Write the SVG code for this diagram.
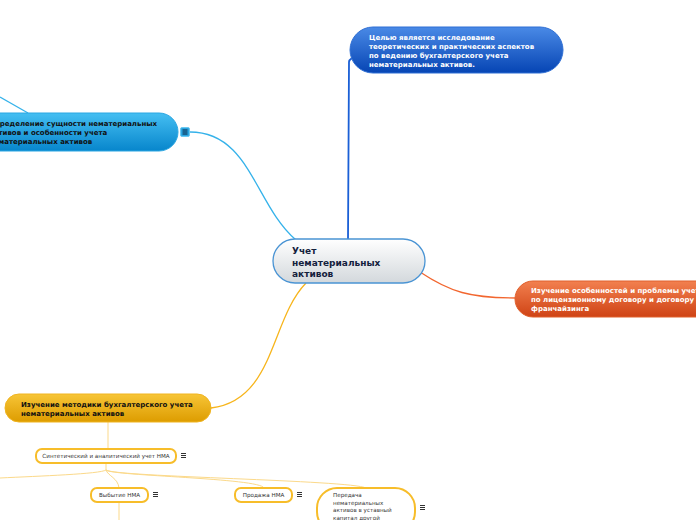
<svg xmlns="http://www.w3.org/2000/svg" width="696" height="520" viewBox="0 0 696 520">
<defs>
<linearGradient id="gCenter" x1="0" y1="0" x2="0" y2="1"><stop offset="0" stop-color="#ffffff"/><stop offset="1" stop-color="#d3d8dc"/></linearGradient>
<linearGradient id="gBlue" x1="0" y1="0" x2="0" y2="1"><stop offset="0" stop-color="#4a8ae6"/><stop offset="1" stop-color="#0645b4"/></linearGradient>
<linearGradient id="gCyan" x1="0" y1="0" x2="0" y2="1"><stop offset="0" stop-color="#45bff2"/><stop offset="1" stop-color="#0786cc"/></linearGradient>
<linearGradient id="gOrange" x1="0" y1="0" x2="0" y2="1"><stop offset="0" stop-color="#f2804f"/><stop offset="1" stop-color="#cf4315"/></linearGradient>
<linearGradient id="gYellow" x1="0" y1="0" x2="0" y2="1"><stop offset="0" stop-color="#f7c537"/><stop offset="1" stop-color="#dd9c00"/></linearGradient>
</defs>
<style>
.t{font-family:"DejaVu Sans","Verdana",sans-serif;font-weight:bold;font-size:7px}
.w{fill:#ffffff}
.k{fill:#111111}
.c{font-family:"DejaVu Sans","Verdana",sans-serif;font-weight:bold;font-size:9px;fill:#14213d}
.s{font-family:"DejaVu Sans","Verdana",sans-serif;font-size:5.6px;fill:#333333}
.sub{fill:#ffffff;stroke:#f7bd2a;stroke-width:2}
.pale{fill:none;stroke:#fbd98a;stroke-width:1}
.ic{stroke:#333333;stroke-width:1}
</style>
<g id="connectors" fill="none">
<path d="M348,240 L349,62 Q349,60 352,58" stroke="#1a5fd6" stroke-width="1.8"/>
<path d="M190,132 C250,132 255,205 296,240" stroke="#35b2ea" stroke-width="1.3"/>
<path d="M0,97 L28,113" stroke="#35b2ea" stroke-width="1.3"/>
<path d="M420,272 C450,292 470,298 516,298" stroke="#f2662f" stroke-width="1.3"/>
<path d="M211,408 C275,400 270,320 306,283" stroke="#f7b51c" stroke-width="1.3"/>
<path d="M108,422 L108,449" class="pale"/>
<path d="M106,463 L106,470 C100,474 40,476 0,478" class="pale"/>
<path d="M106,470 C108,476 118,478 119,488" class="pale"/>
<path d="M106,470 C112,476 260,478 264,488" class="pale"/>
<path d="M106,470 C115,477 350,480 366,488" class="pale"/>
<path d="M119,502 L119,520" class="pale"/>
</g>
<g id="node-center">
<rect x="273" y="239" width="152" height="44" rx="22" fill="url(#gCenter)" stroke="#4a94d4" stroke-width="1.3"/>
<text class="c" x="292" y="254">Учет</text>
<text class="c" x="292" y="265.5">нематериальных</text>
<text class="c" x="292" y="277">активов</text>
</g>
<g id="node-goal">
<rect x="350" y="27" width="213" height="46" rx="23" fill="url(#gBlue)" stroke="#2f6fd4" stroke-width="1"/>
<text class="t w" x="369" y="40">Целью является исследование</text>
<text class="t w" x="369" y="49">теоретических и практических аспектов</text>
<text class="t w" x="369" y="58">по ведению бухгалтерского учета</text>
<text class="t w" x="369" y="67">нематериальных активов.</text>
</g>
<g id="node-definition">
<rect x="-30" y="113" width="208" height="38" rx="19" fill="url(#gCyan)" stroke="#2aa6e2" stroke-width="1"/>
<text class="t k" x="-11" y="126">Определение сущности нематериальных</text>
<text class="t k" x="-11" y="135">активов и особенности учета</text>
<text class="t k" x="-11" y="144">нематериальных активов</text>
<rect x="180.5" y="127.5" width="9" height="9" rx="1.5" fill="#2aa6e2" stroke="#6cc8f0" stroke-width="1"/>
<path d="M182.5,130 H187.5 M182.5,132 H187.5 M182.5,134 H187.5" stroke="#0b2240" stroke-width="1"/>
</g>
<g id="node-license">
<rect x="515" y="281" width="200" height="36" rx="18" fill="url(#gOrange)" stroke="#e0602c" stroke-width="1"/>
<text class="t w" x="531" y="293">Изучение особенностей и проблемы учета</text>
<text class="t w" x="531" y="302">по лицензионному договору и договору</text>
<text class="t w" x="531" y="311">франчайзинга</text>
</g>
<g id="node-method">
<rect x="5" y="394" width="206" height="28" rx="14" fill="url(#gYellow)" stroke="#f0b420" stroke-width="1"/>
<text class="t k" x="21" y="406.5">Изучение методики бухгалтерского учета</text>
<text class="t k" x="21" y="415.5">нематериальных активов</text>
</g>
<g id="node-synthetic">
<rect x="36" y="449" width="140" height="14" rx="6" class="sub"/>
<text class="s" x="106" y="458" text-anchor="middle">Синтетический и аналитический учет НМА</text>
<path d="M181,453.5 H186 M181,455.5 H186 M181,457.5 H186" class="ic"/>
</g>
<g id="node-disposal">
<rect x="91" y="488" width="57" height="14" rx="6" class="sub"/>
<text class="s" x="119.5" y="497" text-anchor="middle">Выбытие НМА</text>
<path d="M153,492.5 H158 M153,494.5 H158 M153,496.5 H158" class="ic"/>
</g>
<g id="node-sale">
<rect x="235" y="488" width="57" height="14" rx="6" class="sub"/>
<text class="s" x="263.5" y="497" text-anchor="middle">Продажа НМА</text>
<path d="M297,492.5 H302 M297,494.5 H302 M297,496.5 H302" class="ic"/>
</g>
<g id="node-transfer">
<rect x="317" y="488" width="98" height="44" rx="20" class="sub"/>
<text class="s" x="333" y="497">Передача</text>
<text class="s" x="333" y="504.5">нематериальных</text>
<text class="s" x="333" y="512">активов в уставный</text>
<text class="s" x="333" y="519.5">капитал другой</text>
<path d="M420,505.5 H425 M420,507.5 H425 M420,509.5 H425" class="ic"/>
</g>
</svg>
